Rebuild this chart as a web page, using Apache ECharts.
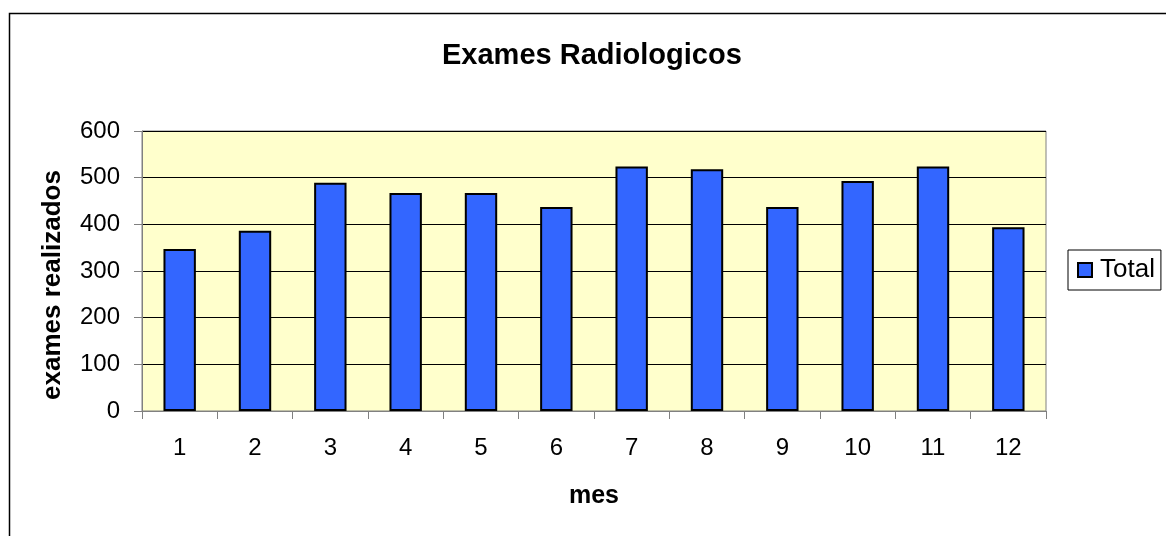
<!DOCTYPE html>
<html>
<head>
<meta charset="utf-8">
<script src="https://cdn.jsdelivr.net/npm/echarts@6/dist/echarts.min.js"></script>
<style>html,body{margin:0;padding:0;background:#fff;}#c{width:1166px;height:536px;}</style>
</head>
<body>
<div id="c"></div>
<script>
const categories = ['1','2','3','4','5','6','7','8','9','10','11','12'];
const totalValues = [347, 386, 489, 467, 467, 437, 524, 518, 437, 493, 524, 394];
const yTicks = [0, 100, 200, 300, 400, 500, 600];

const chart = echarts.init(document.getElementById('c'));
const font = 'Liberation Sans, Arial, sans-serif';
chart.setOption({
  animation: false,
  backgroundColor: '#ffffff',
  graphic: [{
    type: 'rect', left: 7, top: 11, z: -10,
    shape: { width: 1300, height: 700 },
    style: { fill: 'none', stroke: '#000', lineWidth: 1.5 }
  }],
  title: {
    text: 'Exames Radiologicos',
    left: 437, top: 36,
    textStyle: { fontFamily: font, fontSize: 29, fontWeight: 'bold', color: '#000' }
  },
  legend: {
    left: 1068, top: 250,
    orient: 'vertical',
    padding: [7, 6, 7, 9],
    borderColor: '#000', borderWidth: 1,
    icon: 'rect', itemWidth: 14, itemHeight: 14, itemGap: 0,
    textStyle: { fontFamily: font, fontSize: 26, color: '#000', padding: [0, 0, 0, 3] },
    data: ['Total']
  },
  grid: {
    left: 142, top: 131, right: 120, bottom: 125,
    show: true, backgroundColor: '#FFFFCC', borderColor: '#808080', borderWidth: 1
  },
  xAxis: {
    type: 'category',
    data: categories,
    name: 'mes', nameLocation: 'middle', nameGap: 73,
    nameTextStyle: { fontFamily: font, fontSize: 25, fontWeight: 'bold', color: '#000' },
    axisLine: { lineStyle: { color: '#808080', width: 1 } },
    axisTick: { show: true, inside: false, length: 8, alignWithLabel: false, lineStyle: { color: '#808080' } },
    axisLabel: { fontFamily: font, fontSize: 24, color: '#000', margin: 25 },
    splitLine: { show: false }
  },
  yAxis: {
    type: 'value',
    min: 0, max: 600, interval: 100,
    name: 'exames realizados', nameLocation: 'middle', nameGap: 76, nameRotate: 90,
    nameTextStyle: { fontFamily: font, fontSize: 26, fontWeight: 'bold', color: '#000', padding: [0, 28, 0, 0] },
    axisLine: { show: true, lineStyle: { color: '#808080', width: 1 } },
    axisTick: { show: true, inside: false, length: 8, lineStyle: { color: '#808080' } },
    axisLabel: {
      fontFamily: font, fontSize: 24, color: '#000', margin: 22,
      formatter: function (v) { return yTicks.indexOf(v) >= 0 ? String(v) : ''; }
    },
    splitLine: { show: true, lineStyle: { color: '#000', width: 1 } }
  },
  series: [{
    name: 'Total',
    type: 'bar',
    data: totalValues,
    barCategoryGap: '57%',
    itemStyle: { color: '#3366FF', borderColor: '#000', borderWidth: 2 }
  }]
});
</script>
</body>
</html>
